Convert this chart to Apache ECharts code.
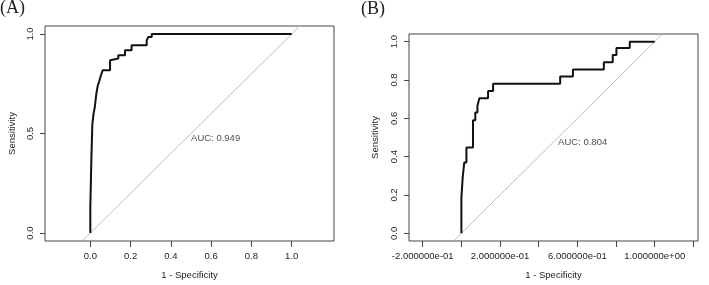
<!DOCTYPE html>
<html>
<head>
<meta charset="utf-8">
<script src="https://cdn.jsdelivr.net/npm/echarts@6/dist/echarts.min.js"></script>
<style>
  html, body { margin: 0; padding: 0; background: #fff; }
  #chart { width: 709px; height: 285px; }
</style>
</head>
<body>
<div id="chart"></div>
<script>
// panel A curve (1 - specificity, sensitivity)
const fprA = [0, 0, 0.005, 0.005, 0.01, 0.01, 0.016, 0.016, 0.022, 0.022, 0.03, 0.03, 0.037, 0.037, 0.045, 0.045,
  0.052, 0.052, 0.058, 0.062, 0.098, 0.098, 0.106, 0.106, 0.139, 0.139, 0.172, 0.172, 0.205, 0.205, 0.23, 0.23,
  0.28, 0.28, 0.288, 0.288, 0.305, 0.305, 1.0]
const tprA = [0, 0.13, 0.13, 0.36, 0.36, 0.545, 0.545, 0.6, 0.6, 0.63, 0.63, 0.7, 0.7, 0.74, 0.74, 0.765,
  0.765, 0.79, 0.79, 0.818, 0.818, 0.868, 0.868, 0.877, 0.877, 0.893, 0.893, 0.918, 0.918, 0.943, 0.943,
  0.943, 0.943, 0.968, 0.968, 0.985, 0.985, 1.0, 1.0]

// panel B curve
const fprB = [0, 0, 0.007, 0.007, 0.015, 0.015, 0.026, 0.026, 0.06, 0.06, 0.072, 0.072, 0.083, 0.083, 0.093, 0.093,
  0.138, 0.138, 0.164, 0.164, 0.511, 0.511, 0.577, 0.577, 0.737, 0.737, 0.783, 0.783, 0.802, 0.802, 0.871, 0.871, 1.0]
const tprB = [0, 0.185, 0.185, 0.295, 0.295, 0.37, 0.37, 0.448, 0.448, 0.59, 0.59, 0.63, 0.63, 0.665, 0.665, 0.705,
  0.705, 0.743, 0.743, 0.78, 0.78, 0.818, 0.818, 0.855, 0.855, 0.893, 0.893, 0.93, 0.93, 0.967, 0.967, 1.0, 1.0]

const diag = [-0.2, 1.2]
const aucA = 'AUC: 0.949'
const aucB = 'AUC: 0.804'

const xTicksA = [0, 0.2, 0.4, 0.6, 0.8, 1.0]
const yTicksA = [0, 0.5, 1.0]
const xTicksB = [-0.2, 0, 0.2, 0.4, 0.6, 0.8, 1.0, 1.2]
const xLabelValuesB = [-0.2, 0.2, 0.6, 1.0]
const xLabelTextB = ['-2.000000e-01', '2.000000e-01', '6.000000e-01', '1.000000e+00']
const yTicksB = [0, 0.2, 0.4, 0.6, 0.8, 1.0]

const zip = (xs, ys) => xs.map((x, i) => [x, ys[i]])

const FONT = 'Liberation Sans'
const TEXT = '#222'
const AXIS = '#444'

function xAxis(gridIndex, min, max, ticks, labels, formatter) {
  return {
    type: 'value',
    gridIndex,
    min,
    max,
    name: '1 - Specificity',
    nameLocation: 'middle',
    nameGap: 29,
    nameTextStyle: { fontFamily: FONT, fontSize: 9.5, color: TEXT },
    axisLine: { show: false, onZero: false },
    axisTick: { show: true, length: 6, customValues: ticks, lineStyle: { color: AXIS } },
    axisLabel: {
      customValues: labels,
      margin: 10,
      fontFamily: FONT,
      fontSize: 9.5,
      color: TEXT,
      formatter
    },
    splitLine: { show: false }
  }
}

function yAxis(gridIndex, ticks, gap) {
  return {
    type: 'value',
    gridIndex,
    min: -0.04,
    max: 1.04,
    name: 'Sensitivity',
    nameLocation: 'middle',
    nameGap: gap,
    nameTextStyle: { fontFamily: FONT, fontSize: 9.5, color: TEXT },
    axisLine: { show: false, onZero: false },
    axisTick: { show: true, length: 5, customValues: ticks, lineStyle: { color: AXIS } },
    axisLabel: {
      customValues: ticks,
      rotate: 90,
      margin: 10,
      fontFamily: FONT,
      fontSize: 9.5,
      color: TEXT,
      formatter: v => v.toFixed(1)
    },
    splitLine: { show: false }
  }
}

function aucLabel(idx, text) {
  return {
    type: 'scatter',
    xAxisIndex: idx,
    yAxisIndex: idx,
    symbolSize: 0.1,
    itemStyle: { color: 'rgba(0,0,0,0)' },
    silent: true,
    data: [[0.5, 0.5]],
    label: {
      show: true,
      position: 'right',
      distance: 0,
      verticalAlign: 'top',
      formatter: text,
      fontFamily: FONT,
      fontSize: 9.5,
      color: TEXT
    }
  }
}

function diagLine(idx) {
  return {
    type: 'line',
    xAxisIndex: idx,
    yAxisIndex: idx,
    showSymbol: false,
    clip: true,
    silent: true,
    lineStyle: { color: '#bdbdbd', width: 1 },
    data: zip(diag, diag)
  }
}

function rocLine(idx, xs, ys) {
  return {
    type: 'line',
    xAxisIndex: idx,
    yAxisIndex: idx,
    showSymbol: false,
    clip: true,
    silent: true,
    lineStyle: { color: '#111', width: 2 },
    data: zip(xs, ys)
  }
}

const chart = echarts.init(document.getElementById('chart'), null, { renderer: 'canvas' })

chart.setOption({
  animation: false,
  backgroundColor: '#fff',
  title: [{
    text: '(A)',
    left: 0,
    top: -1,
    padding: 0,
    textStyle: { fontFamily: 'Liberation Serif', fontSize: 18, fontWeight: 'normal', color: '#222' }
  }, {
    text: '(B)',
    left: 361,
    top: 0,
    padding: 0,
    textStyle: { fontFamily: 'Liberation Serif', fontSize: 18, fontWeight: 'normal', color: '#222' }
  }],
  grid: [{
    left: 45, top: 26, width: 289, height: 216,
    show: true, borderColor: AXIS, borderWidth: 1, backgroundColor: 'transparent'
  }, {
    left: 409, top: 34, width: 289, height: 208,
    show: true, borderColor: AXIS, borderWidth: 1, backgroundColor: 'transparent'
  }],
  xAxis: [
    xAxis(0, -0.225, 1.21, xTicksA, xTicksA, v => v.toFixed(1)),
    xAxis(1, -0.271, 1.224, xTicksB, xLabelValuesB, v => {
      let best = 0
      xLabelValuesB.forEach((t, i) => {
        if (Math.abs(t - v) < Math.abs(xLabelValuesB[best] - v)) best = i
      })
      return xLabelTextB[best]
    })
  ],
  yAxis: [
    yAxis(0, yTicksA, 28),
    yAxis(1, yTicksB, 29)
  ],
  series: [
    diagLine(0),
    rocLine(0, fprA, tprA),
    aucLabel(0, aucA),
    diagLine(1),
    rocLine(1, fprB, tprB),
    aucLabel(1, aucB)
  ]
})
</script>
</body>
</html>
